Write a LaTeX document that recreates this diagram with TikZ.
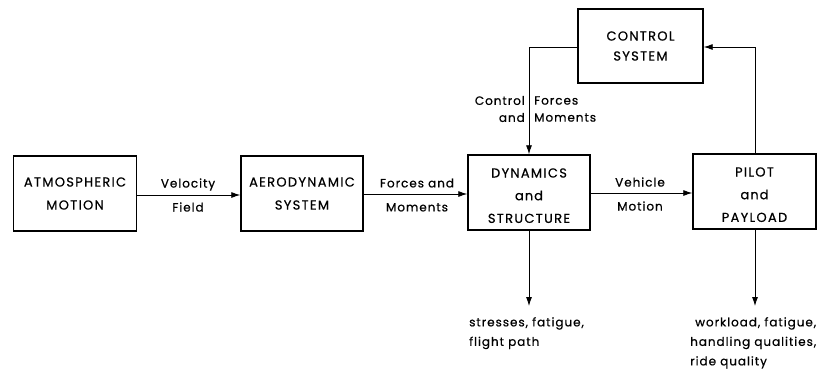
\documentclass[tikz,border=0pt]{standalone}
\usepackage{fontspec}
\setmainfont{Poppins}
\newfontfamily\capfont{Poppins}[FakeBold=0.6, LetterSpace=10]
\newfontfamily\lowfont{Poppins}[FakeBold=0.6, LetterSpace=8]
\usetikzlibrary{arrows.meta}
\begin{document}
\begin{tikzpicture}[x=1pt,y=-1pt,
  blk/.style={draw, line width=1.4pt, inner sep=0pt, align=center, font=\capfont\fontsize{13}{23}\selectfont},
  lbl/.style={inner sep=0pt, font=\lowfont\fontsize{12}{24}\selectfont},
  conn/.style={line width=0.8pt, -{Latex[length=9pt,width=6pt]}}]
\useasboundingbox (0,0) rectangle (822,373);
\node[blk, minimum width=123pt, minimum height=75pt] (atm) at (75,193.5) {ATMOSPHERIC\\MOTION};
\node[blk, minimum width=122pt, minimum height=75pt] (aero) at (302,193.5) {AERODYNAMIC\\SYSTEM};
\node[blk, minimum width=122pt, minimum height=75pt] (dyn) at (529,192.5) {\rule{0pt}{15.5pt}DYNAMICS\\[-0.3pt]{\lowfont and}\\[-0.3pt]STRUCTURE};
\node[blk, minimum width=123pt, minimum height=75pt] (pil) at (754.5,191.5) {\rule{0pt}{15.5pt}PILOT\\[-0.3pt]{\lowfont and}\\[-0.3pt]PAYLOAD};
\node[blk, minimum width=125pt, minimum height=74pt, font=\capfont\fontsize{13}{20}\selectfont] (ctl) at (640.5,46) {CONTROL\\SYSTEM};
\coordinate (c1) at (529,47);
\coordinate (c2) at (755,47);
\coordinate (o1) at (529,306);
\coordinate (o2) at (755,306);
\draw[conn] (atm.east |- 0,195) -- (aero.west |- 0,195);
\draw[conn] (aero.east |- 0,194) -- (dyn.west |- 0,194);
\draw[conn] (dyn.east |- 0,193) -- (pil.west |- 0,193);
\draw[conn] (ctl.west |- c1) -- (c1) -- (dyn.north);
\draw[conn] (pil.north -| c2) -- (c2) -- (ctl.east |- c2);
\draw[conn] (dyn.south) -- (o1);
\draw[conn] (pil.south -| o2) -- (o2);
\node[lbl, align=center] (l1) at (188,195) {Velocity\\Field};
\node[lbl, align=center] (l2) at (417,195) {Forces and\\Moments};
\node[lbl, align=center] (l3) at (640,194) {Vehicle\\Motion};
\node[lbl, align=right, anchor=east, font=\lowfont\fontsize{12}{17}\selectfont] (l4) at (525,109) {Control\\and};
\node[lbl, align=left, anchor=west, font=\lowfont\fontsize{12}{17}\selectfont] (l5) at (534,109) {Forces\\Moments};
\node[lbl, align=left, anchor=north west, font=\lowfont\fontsize{12}{19.5}\selectfont] (l6) at (469,317) {stresses, fatigue,\\flight path};
\node[lbl, align=left, anchor=north west, font=\lowfont\fontsize{12}{19.5}\selectfont] (l7) at (690,317) {\hspace{5pt}workload, fatigue,\\handling qualities,\\ride quality};
\end{tikzpicture}
\end{document}
